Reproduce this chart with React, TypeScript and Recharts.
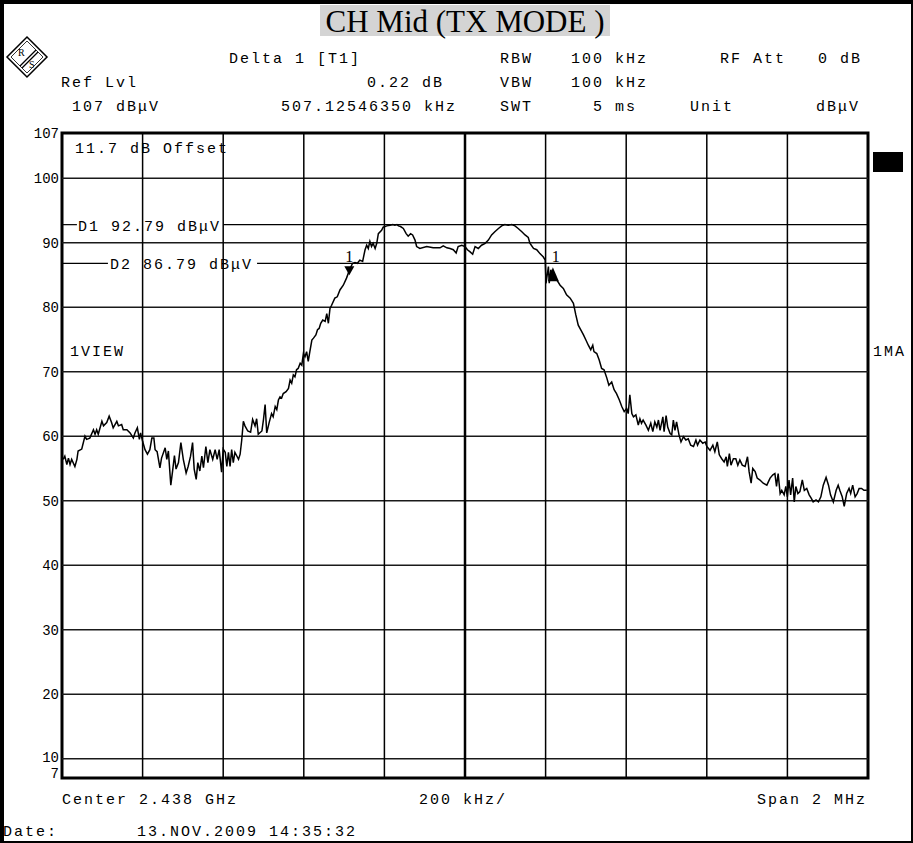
import React from 'react';
import { LineChart, Line, XAxis, YAxis, ReferenceLine, ReferenceArea, ReferenceDot } from 'recharts';

// Frequency offset from centre (kHz) and measured level (dBµV)
const freqKHz = [
  -997, -993, -988, -984, -980, -976, -968, -963, -960, -951, -943, -939, -931, -922, -918, -914, -910, -901, -897, -889,
  -883, -877, -873, -864, -860, -852, -848, -839, -831, -823, -819, -813, -808, -805, -800, -794, -788, -782, -777, -772,
  -769, -764, -757, -753, -744, -740, -736, -730, -725, -721, -717, -711, -705, -699, -692, -687, -681, -676, -672, -667,
  -663, -658, -653, -649, -643, -638, -633, -626, -620, -615, -610, -604, -600, -595, -591, -587, -583, -579, -575, -571,
  -562, -558, -554, -550, -546, -539, -532, -527, -521, -517, -513, -504, -500, -496, -492, -486, -480, -476, -471, -467,
  -463, -459, -455, -451, -444, -438, -434, -430, -426, -422, -418, -414, -409, -405, -401, -397, -393, -389, -385, -380,
  -376, -370, -366, -362, -358, -353, -347, -343, -339, -335, -331, -323, -317, -310, -302, -294, -287, -279, -273, -267,
  -261, -254, -248, -244, -240, -236, -232, -228, -223, -219, -215, -207, -203, -194, -186, -179, -174, -169, -165, -160,
  -153, -146, -141, -135, -130, -124, -120, -112, -95, -79, -62, -54, -45, -37, -29, -22, -17, -8, 0, 6,
  12, 19, 25, 33, 41, 50, 58, 66, 74, 83, 91, 99, 107, 116, 124, 132, 141, 149, 157, 161,
  170, 178, 186, 194, 199, 201, 207, 209, 213, 219, 228, 236, 244, 252, 261, 269, 275, 281, 287, 294,
  300, 306, 312, 317, 320, 327, 333, 339, 345, 352, 357, 364, 370, 376, 383, 389, 395, 401, 405, 409,
  414, 418, 424, 430, 434, 438, 442, 449, 455, 461, 466, 471, 476, 480, 484, 491, 494, 499, 503, 509,
  513, 517, 521, 525, 531, 536, 542, 548, 554, 560, 567, 573, 577, 583, 590, 596, 600, 608, 615, 620,
  626, 631, 637, 643, 648, 651, 656, 660, 666, 672, 677, 682, 688, 695, 701, 705, 710, 714, 720, 725,
  732, 740, 749, 757, 764, 769, 773, 777, 782, 786, 792, 796, 800, 804, 808, 813, 817, 821, 826, 831,
  837, 842, 848, 854, 859, 864, 871, 877, 883, 889, 896, 902, 907, 914, 921, 926, 930, 936, 941, 947,
  953, 957, 962, 968, 973, 978, 984, 990, 997,
];

const levelDb = [
  56.4, 56.9, 55.6, 56.6, 55.6, 56.4, 55.3, 56.4, 57.7, 58.0, 60.0, 59.5, 59.7, 61.0, 60.3, 61.0, 60.3, 62.3, 61.6, 62.1,
  63.1, 62.1, 61.3, 62.3, 61.6, 61.8, 61.0, 61.0, 60.5, 59.7, 60.5, 61.3, 59.5, 60.5, 59.2, 57.9, 57.2, 57.9, 59.7, 59.7,
  57.9, 57.6, 55.1, 56.6, 58.2, 56.4, 57.7, 52.4, 54.9, 57.0, 54.9, 55.9, 59.0, 56.4, 54.3, 55.3, 56.9, 59.0, 54.9, 53.3,
  55.9, 54.6, 56.9, 55.1, 58.4, 55.9, 57.9, 56.4, 57.9, 56.4, 57.9, 54.4, 58.0, 57.5, 55.3, 57.5, 55.3, 57.9, 55.9, 57.5,
  56.4, 57.2, 59.4, 62.3, 61.6, 60.8, 60.6, 62.6, 61.6, 62.7, 60.3, 60.8, 62.6, 64.9, 60.5, 62.1, 63.5, 63.0, 64.6, 64.1,
  65.6, 66.1, 65.9, 66.6, 66.9, 67.4, 68.7, 68.2, 69.5, 69.2, 70.3, 70.5, 71.3, 71.0, 72.8, 72.3, 73.1, 71.6, 73.1, 74.9,
  75.2, 75.7, 76.5, 76.7, 77.5, 78.0, 77.8, 79.0, 77.5, 79.8, 80.3, 81.4, 81.6, 82.7, 83.4, 84.5, 85.7, 86.8, 86.9, 86.8,
  87.3, 87.1, 88.9, 89.6, 89.1, 90.2, 89.4, 89.9, 89.1, 89.9, 91.4, 91.9, 92.4, 92.6, 92.7, 92.8, 92.7, 92.8, 92.6, 92.5,
  92.2, 91.4, 91.0, 91.4, 91.2, 90.4, 89.4, 89.1, 89.4, 89.2, 89.2, 89.5, 89.2, 89.1, 88.9, 88.4, 89.4, 89.6, 89.4, 88.9,
  88.6, 88.2, 89.4, 89.1, 89.6, 89.9, 90.4, 91.2, 91.7, 92.2, 92.6, 92.8, 92.7, 92.8, 92.6, 92.2, 91.7, 91.2, 90.8, 89.9,
  89.1, 88.9, 88.3, 87.8, 87.3, 83.7, 86.3, 83.7, 85.8, 84.5, 84.2, 83.4, 82.9, 81.9, 81.4, 80.6, 78.8, 77.2, 76.5, 75.7,
  74.9, 74.1, 73.4, 74.1, 73.1, 72.8, 71.8, 70.5, 70.3, 69.0, 67.9, 68.4, 67.2, 66.6, 65.6, 64.6, 63.8, 64.3, 63.5, 66.4,
  63.5, 63.0, 63.3, 61.7, 62.7, 62.0, 62.5, 61.7, 60.9, 62.0, 60.7, 62.2, 61.4, 62.5, 60.9, 63.0, 60.7, 63.2, 61.4, 60.4,
  60.2, 62.5, 60.9, 62.2, 60.2, 59.1, 59.9, 59.4, 59.6, 58.6, 58.4, 59.4, 58.6, 59.4, 58.9, 59.1, 58.4, 57.8, 58.6, 57.6,
  59.1, 57.1, 56.5, 56.0, 56.8, 55.3, 57.3, 55.5, 56.5, 56.5, 55.5, 56.3, 55.5, 55.3, 56.8, 54.5, 52.7, 55.0, 54.5, 53.5,
  53.2, 52.7, 52.4, 53.5, 54.0, 54.2, 52.2, 54.2, 51.1, 51.6, 50.9, 52.2, 50.6, 53.2, 50.9, 53.5, 49.8, 52.2, 51.1, 51.4,
  53.2, 51.6, 51.9, 50.9, 50.4, 49.8, 50.1, 49.8, 50.6, 52.4, 53.6, 52.4, 50.9, 49.8, 51.6, 52.4, 51.6, 50.6, 49.1, 51.1,
  51.9, 51.1, 52.4, 50.6, 51.1, 51.9, 51.9, 51.6, 51.6,
];

const yTicks = [7, 10, 20, 30, 40, 50, 60, 70, 80, 90, 100, 107];
const hGrid = [10, 20, 30, 40, 50, 60, 70, 80, 90, 100];
const vGrid = [-800, -600, -400, -200, 200, 400, 600, 800];
const d1Level = 92.79;
const d2Level = 86.79;
const marker1 = { f: -287, level: 86.79 };
const delta1 = { f: 218, level: 86.79 };

const data = freqKHz.map((f, i) => ({ f, level: levelDb[i] }));

const MONO = '"Liberation Mono", "DejaVu Sans Mono", monospace';
const SERIF = '"Liberation Serif", "DejaVu Serif", serif';

const YTick = (props: any) => {
  const { y, payload } = props;
  const v = payload.value;
  const dy = v === 7 ? 0 : v === 10 ? 3 : 5;
  return (
    <text x={59} y={y + dy} textAnchor="end" fontFamily={MONO} fontSize={14} fill="#000">
      {v}
    </text>
  );
};

const MarkerDown = (props: any) => {
  const { cx, cy } = props;
  return (
    <g>
      <polygon points={`${cx - 5},${cy + 3} ${cx + 5},${cy + 3} ${cx},${cy + 12}`} fill="#000" />
      <text x={cx - 4} y={cy - 1} fontFamily={SERIF} fontSize={16} fill="#000">1</text>
    </g>
  );
};

const MarkerUp = (props: any) => {
  const { cx, cy } = props;
  return (
    <g>
      <polygon points={`${cx},${cy + 4} ${cx - 5},${cy + 18} ${cx + 6},${cy + 18}`} fill="#000" />
      <text x={cx - 1} y={cy - 1} fontFamily={SERIF} fontSize={16} fill="#000">1</text>
    </g>
  );
};

const T = ({ x, y, children, anchor = 'start', size = 15, ls = 2 }: any) => (
  <text x={x} y={y} textAnchor={anchor} fontFamily={MONO} fontSize={size} letterSpacing={ls} fill="#000">
    {children}
  </text>
);

export default function App() {
  return (
    <div style={{ position: 'absolute', left: 0, top: 0, width: 913, height: 843, background: '#fff', overflow: 'hidden' }}>
      <LineChart width={913} height={843} data={data} margin={{ top: 133, right: 45, bottom: 65, left: 0 }}>
        <XAxis type="number" dataKey="f" domain={[-1000, 1000]} hide allowDataOverflow />
        <YAxis
          type="number"
          domain={[7, 107]}
          ticks={yTicks}
          interval={0}
          width={62}
          axisLine={false}
          tickLine={false}
          tick={<YTick />}
          allowDataOverflow
        />
        {hGrid.map((v) => (
          <ReferenceLine key={'h' + v} y={v} stroke="#1a1a1a" strokeWidth={1.5} />
        ))}
        {vGrid.map((v) => (
          <ReferenceLine key={'v' + v} x={v} stroke="#000" strokeWidth={1.5} />
        ))}
        <ReferenceLine x={0} stroke="#000" strokeWidth={2.5} />
        <ReferenceLine segment={[{ x: -1000, y: d1Level }, { x: -963, y: d1Level }]} stroke="#000" strokeWidth={1.2} />
        <ReferenceLine segment={[{ x: -600, y: d1Level }, { x: 1000, y: d1Level }]} stroke="#000" strokeWidth={1.2} />
        <ReferenceLine segment={[{ x: -1000, y: d2Level }, { x: -886, y: d2Level }]} stroke="#000" strokeWidth={1.2} />
        <ReferenceLine segment={[{ x: -516, y: d2Level }, { x: 1000, y: d2Level }]} stroke="#000" strokeWidth={1.2} />
        <ReferenceArea x1={-1000} x2={1000} y1={7} y2={107} fill="none" stroke="#000" strokeWidth={3} />
        <Line
          type="linear"
          dataKey="level"
          stroke="#000"
          strokeWidth={1.5}
          dot={false}
          activeDot={false}
          isAnimationActive={false}
        />
        <ReferenceDot x={marker1.f} y={marker1.level} shape={<MarkerDown />} />
        <ReferenceDot x={delta1.f} y={delta1.level} shape={<MarkerUp />} />
      </LineChart>
      <svg
        width={913}
        height={843}
        style={{ position: 'absolute', left: 0, top: 0, pointerEvents: 'none' }}
      >
        {/* frame */}
        <rect x={0} y={0} width={4} height={843} fill="#000" />
        <rect x={0} y={0} width={913} height={4} fill="#000" />
        <rect x={911} y={0} width={2} height={843} fill="#000" />
        <rect x={0} y={841} width={913} height={2} fill="#000" />

        {/* title */}
        <rect x={320} y={5} width={290} height={31} fill="#d4d4d4" />
        <text x={465} y={32} textAnchor="middle" fontFamily={SERIF} fontSize={31} fill="#000">
          CH Mid (TX MODE )
        </text>

        {/* R&S logo */}
        <g>
          <polygon points="27,37 47,57 27,77 7,57" fill="none" stroke="#000" strokeWidth={1.5} />
          <polygon points="27,41 43,57 27,73 11,57" fill="none" stroke="#000" strokeWidth={0.8} />
          <line x1={20} y1={66} x2={36} y2={50} stroke="#000" strokeWidth={1.2} />
          <line x1={22} y1={68} x2={38} y2={52} stroke="#000" strokeWidth={1.2} />
          <text x={18} y={56} fontFamily={SERIF} fontSize={10} fill="#000">R</text>
          <text x={29} y={68} fontFamily={SERIF} fontSize={10} fill="#000">S</text>
        </g>

        {/* header */}
        <T x={229} y={63}>Delta 1 [T1]</T>
        <T x={500} y={63}>RBW</T>
        <T x={571} y={63}>100 kHz</T>
        <T x={720} y={63}>RF Att</T>
        <T x={818} y={63}>0 dB</T>

        <T x={61} y={87}>Ref Lvl</T>
        <T x={444} y={87} anchor="end">0.22 dB</T>
        <T x={500} y={87}>VBW</T>
        <T x={571} y={87}>100 kHz</T>

        <T x={72} y={111}>107 dBμV</T>
        <T x={457} y={111} anchor="end">507.12546350 kHz</T>
        <T x={500} y={111}>SWT</T>
        <T x={637} y={111} anchor="end">5 ms</T>
        <T x={690} y={111}>Unit</T>
        <T x={860} y={111} anchor="end">dBμV</T>

        {/* in-plot annotations */}
        <T x={75} y={153}>11.7 dB Offset</T>
        <T x={78} y={231}>D1 92.79 dBμV</T>
        <T x={110} y={269}>D2 86.79 dBμV</T>
        <T x={70} y={356}>1VIEW</T>
        <T x={873} y={356}>1MA</T>
        <rect x={873} y={152} width={30} height={20} fill="#000" />

        {/* footer */}
        <T x={62} y={804}>Center 2.438 GHz</T>
        <T x={463} y={804} anchor="middle">200 kHz/</T>
        <T x={867} y={804} anchor="end">Span 2 MHz</T>
        <T x={3} y={836}>Date:</T>
        <T x={137} y={836}>13.NOV.2009  14:35:32</T>
      </svg>
    </div>
  );
}
